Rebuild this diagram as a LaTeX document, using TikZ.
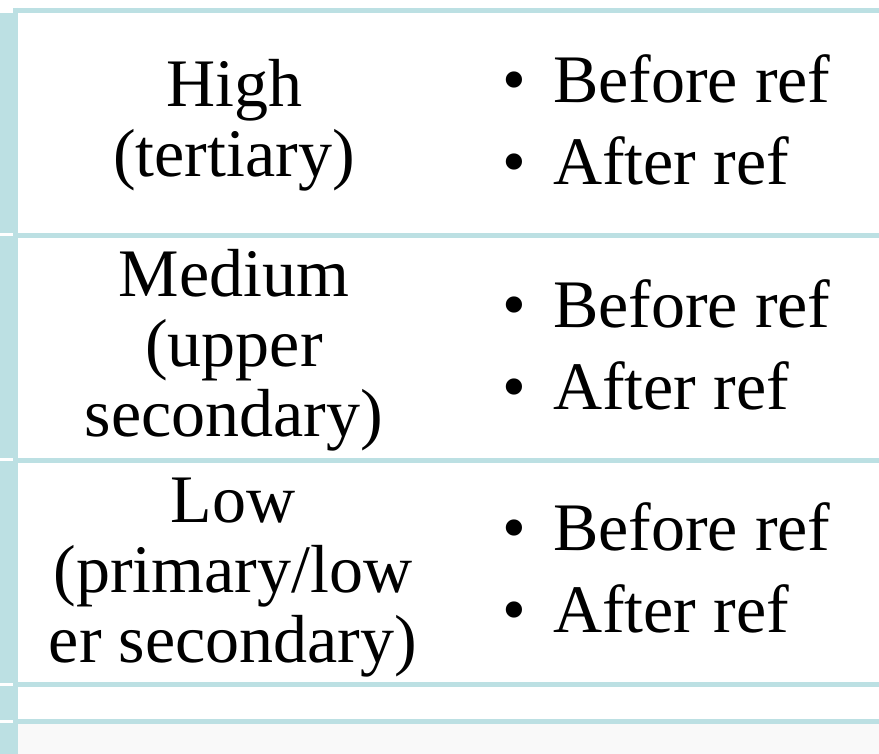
\documentclass[tikz,border=0pt]{standalone}
\usepackage{fontspec}
\setmainfont{Liberation Serif}
\definecolor{teal}{HTML}{BCE0E3}
\definecolor{bottomgray}{HTML}{F9F9F9}
\begin{document}
\begin{tikzpicture}[x=1pt,y=-1pt,
  rule/.style={draw=teal,line width=5pt},
  strip/.style={fill=teal},
  label/.style={anchor=base,inner sep=0pt,font=\fontsize{68}{70}\selectfont},
  bullets/.style={anchor=base west,inner sep=0pt,font=\fontsize{68}{82}\selectfont}]
\useasboundingbox (0,0) rectangle (879,754);
\fill[white] (0,0) rectangle (879,754);
% bottom light band
\fill[bottomgray] (18,724) rectangle (879,754);
% left strip segments
\fill[strip] (0,13) rectangle (14,233);
\fill[strip] (0,236) rectangle (14,458);
\fill[strip] (0,461) rectangle (14,683);
\fill[strip] (0,686) rectangle (14,720);
\fill[strip] (0,723) rectangle (14,754);
% frame lines
\coordinate (tl) at (15.5,8);
\coordinate (bl) at (15.5,754);
\draw[rule] (tl) -- (bl);
\coordinate (r0a) at (13,10.5);   \coordinate (r0b) at (879,10.5);
\coordinate (r1a) at (13,235.5);  \coordinate (r1b) at (879,235.5);
\coordinate (r2a) at (13,460);    \coordinate (r2b) at (879,460);
\coordinate (r3a) at (13,684.5);  \coordinate (r3b) at (879,684.5);
\coordinate (r4a) at (13,721.5);  \coordinate (r4b) at (879,721.5);
\draw[rule] (r0a) -- (r0b);
\draw[rule] (r1a) -- (r1b);
\draw[rule] (r2a) -- (r2b);
\draw[rule] (r3a) -- (r3b);
\draw[rule] (r4a) -- (r4b);
% left labels
\node[label] (high) at (234,107) {\begin{tabular}[t]{@{}c@{}}High\\(tertiary)\end{tabular}};
\node[label] (medium) at (234,297) {\begin{tabular}[t]{@{}c@{}}Medium\\(upper\\secondary)\end{tabular}};
\node[label] (low) at (233,522) {\begin{tabular}[t]{@{}c@{}}Low\\(primary/low\\er secondary)\end{tabular}};
% bullets
\node[bullets] (b1) at (502,103) {\begin{tabular}[t]{@{}l@{}}\makebox[51pt][l]{\textbullet}Before ref\\\makebox[51pt][l]{\textbullet}After ref\end{tabular}};
\node[bullets] (b2) at (502,327) {\begin{tabular}[t]{@{}l@{}}\makebox[51pt][l]{\textbullet}Before ref\\\makebox[51pt][l]{\textbullet}After ref\end{tabular}};
\node[bullets] (b3) at (502,550) {\begin{tabular}[t]{@{}l@{}}\makebox[51pt][l]{\textbullet}Before ref\\\makebox[51pt][l]{\textbullet}After ref\end{tabular}};
\end{tikzpicture}
\end{document}
